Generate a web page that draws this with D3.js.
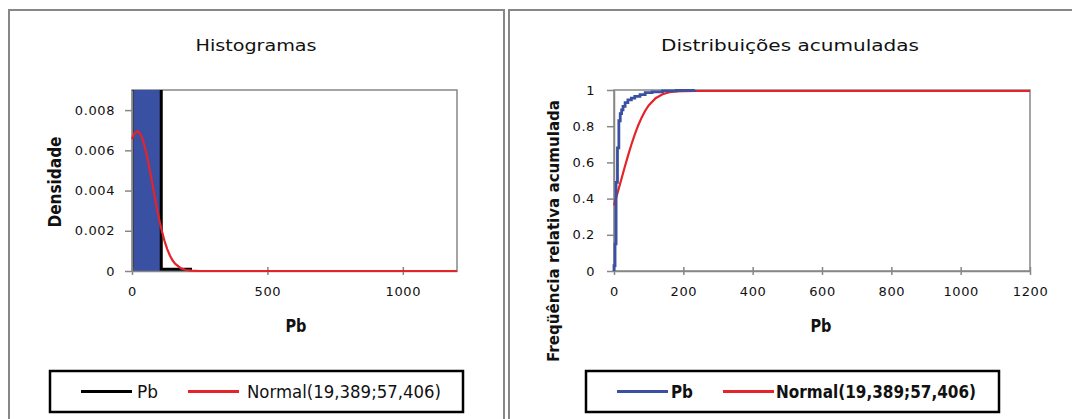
<!DOCTYPE html>
<html>
<head>
    <meta charset="utf-8" />
    <title>Histogramas e distribuições acumuladas - Pb</title>
    <style>
        body { margin: 0; background: #fff; }
        svg text { font-family: "DejaVu Sans", "Liberation Sans", sans-serif; fill: #111; }
    </style>
    <script src="https://cdn.jsdelivr.net/npm/d3@7"></script>
</head>
<body>
    <div id="svg"></div>

    <script type="text/javascript">
        // histogram of Pb (bin edges + density per bin)
        var binEdges = [0, 108, 216];
        var pbDensity = [0.0092, 0.00009];

        // fitted Normal(19,389;57,406) density
        var normX = [0, 10, 20, 30, 40, 50, 60, 70, 80, 90, 100, 110, 120, 130, 140, 150, 160, 180, 200, 220, 250, 1200];
        var normDens = [0.00656, 0.00686, 0.00695, 0.00683, 0.00652, 0.00603, 0.00541, 0.00471, 0.00398, 0.00326, 0.00259,
                        0.00200, 0.00150, 0.00109, 0.00077, 0.00052, 0.00035, 0.00014, 0.00005, 0.00002, 0, 0];

        // empirical cumulative frequency of Pb
        var pbCdfX = [0, 3, 6, 10, 14, 18, 22, 26, 32, 40, 50, 60, 75, 90, 110, 140, 180, 233];
        var pbCdfY = [0.03, 0.15, 0.49, 0.68, 0.83, 0.87, 0.89, 0.91, 0.93, 0.945, 0.955, 0.965, 0.975, 0.985, 0.99, 0.995, 0.998, 1];

        // fitted normal cumulative distribution
        var normCdfX = [0, 10, 20, 30, 40, 50, 60, 70, 80, 90, 100, 120, 140, 160, 180, 200, 240, 1200];
        var normCdfY = [0.368, 0.435, 0.504, 0.573, 0.640, 0.703, 0.760, 0.811, 0.854, 0.891, 0.920, 0.960, 0.982, 0.993, 0.9974, 0.9992, 1, 1];

        var densTicks = [0, 0.002, 0.004, 0.006, 0.008];
        var histXTicks = [0, 500, 1000];
        var cdfXTicks = [0, 200, 400, 600, 800, 1000, 1200];
        var cdfYTicks = [0, 0.2, 0.4, 0.6, 0.8, 1];
        var legendLabels = ['Pb', 'Normal(19,389;57,406)'];

        var width = 1072,
            height = 419;
        var gray = '#878787',
            blue = '#3a50a2',
            red = '#e4232b';

        var svg = d3.select('#svg')
            .append('svg')
            .attr('width', width)
            .attr('height', height);

        // panel frames
        svg.append('rect').attr('x', 9).attr('y', 10).attr('width', 495).attr('height', 420)
            .attr('fill', 'none').attr('stroke', gray).attr('stroke-width', 2);
        svg.append('rect').attr('x', 509).attr('y', 10).attr('width', 600).attr('height', 420)
            .attr('fill', 'none').attr('stroke', gray).attr('stroke-width', 2);

        // ---------- left: histogram ----------
        var hx = d3.scaleLinear().domain([0, 1200]).range([132, 457]);
        var hy = d3.scaleLinear().domain([0, 0.009]).range([271, 90]);

        svg.append('clipPath').attr('id', 'clipH')
            .append('rect').attr('x', 132).attr('y', 90).attr('width', 330).attr('height', 186);

        svg.append('rect').attr('x', 132).attr('y', 90).attr('width', 325).attr('height', 181)
            .attr('fill', 'none').attr('stroke', gray).attr('stroke-width', 1.5);

        var hg = svg.append('g').attr('clip-path', 'url(#clipH)');
        hg.selectAll('.bin')
            .data(pbDensity)
            .enter()
            .append('rect')
            .attr('x', (d, i) => hx(binEdges[i]))
            .attr('width', (d, i) => hx(binEdges[i + 1]) - hx(binEdges[i]))
            .attr('y', d => hy(d))
            .attr('height', d => hy(0) - hy(d))
            .attr('fill', blue);

        var outline = [[binEdges[0], 0]];
        pbDensity.forEach(function(d, i) {
            outline.push([binEdges[i], d], [binEdges[i + 1], d]);
        });
        outline.push([binEdges[binEdges.length - 1], 0]);
        hg.append('path')
            .datum(outline)
            .attr('d', d3.line().x(d => hx(d[0])).y(d => hy(d[1])))
            .attr('fill', 'none').attr('stroke', '#000').attr('stroke-width', 3);

        var gHY = svg.append('g')
            .attr('transform', 'translate(132, 0)')
            .call(d3.axisLeft(hy).tickValues(densTicks).tickSize(7).tickSizeOuter(0)
                .tickFormat(d => d === 0 ? '0' : d3.format('.3f')(d)));
        var gHX = svg.append('g')
            .attr('transform', 'translate(0, 271)')
            .call(d3.axisBottom(hx).tickValues(histXTicks).tickSize(4).tickSizeOuter(0)
                .tickFormat(d3.format('d')));
        gHX.selectAll('.tick line').attr('y1', -4);

        svg.append('path')
            .datum(normX.map((x, i) => [x, normDens[i]]))
            .attr('d', d3.line().x(d => hx(d[0])).y(d => hy(d[1])))
            .attr('fill', 'none').attr('stroke', red).attr('stroke-width', 2.2);

        // ---------- right: cumulative ----------
        var cx = d3.scaleLinear().domain([0, 1200]).range([614, 1030]);
        var cy = d3.scaleLinear().domain([0, 1]).range([271, 90]);

        svg.append('rect').attr('x', 614).attr('y', 90).attr('width', 416).attr('height', 181)
            .attr('fill', 'none').attr('stroke', gray).attr('stroke-width', 1.5);

        var gCY = svg.append('g')
            .attr('transform', 'translate(614, 0)')
            .call(d3.axisLeft(cy).tickValues(cdfYTicks).tickSize(7).tickSizeOuter(0)
                .tickFormat(d3.format('~g')));
        var gCX = svg.append('g')
            .attr('transform', 'translate(0, 271)')
            .call(d3.axisBottom(cx).tickValues(cdfXTicks).tickSize(4).tickSizeOuter(0)
                .tickFormat(d3.format('d')));
        gCX.selectAll('.tick line').attr('y1', -4);

        svg.append('path')
            .datum(normCdfX.map((x, i) => [x, normCdfY[i]]))
            .attr('d', d3.line().x(d => cx(d[0])).y(d => cy(d[1]) + 1))
            .attr('fill', 'none').attr('stroke', red).attr('stroke-width', 2.2);

        svg.append('path')
            .datum([[0, 0]].concat(pbCdfX.map((x, i) => [x, pbCdfY[i]])))
            .attr('d', d3.line().curve(d3.curveStepAfter).x(d => cx(d[0])).y(d => cy(d[1])))
            .attr('fill', 'none').attr('stroke', blue).attr('stroke-width', 2.8);

        // axis styling
        svg.selectAll('.domain, .tick line').attr('stroke', gray).attr('stroke-width', 1.5);
        svg.selectAll('.tick text')
            .attr('font-size', 13).attr('letter-spacing', 0.6).attr('fill', '#222')
            .style('font-family', '"DejaVu Sans", sans-serif');
        gHX.selectAll('.tick text').attr('y', 16);
        gCX.selectAll('.tick text').attr('y', 16);
        gHY.selectAll('.tick text').attr('x', -17);
        gCY.selectAll('.tick text').attr('x', -19);

        // titles
        function label(x, y, txt, size, weight, len, rot) {
            var t = svg.append('text')
                .attr('x', x).attr('y', y)
                .attr('text-anchor', 'middle')
                .attr('font-size', size)
                .attr('font-weight', weight)
                .text(txt);
            if (len) t.attr('textLength', len).attr('lengthAdjust', 'spacingAndGlyphs');
            if (rot) t.attr('transform', 'rotate(-90,' + x + ',' + y + ')');
            return t;
        }
        label(256, 51, 'Histogramas', 16, 'normal', 121);
        label(790, 51, 'Distribuições acumuladas', 16, 'normal', 258);
        label(296, 332, 'Pb', 17, 'bold', 21);
        label(821, 332, 'Pb', 17, 'bold', 21);
        label(61, 182, 'Densidade', 17, 'bold', 91, true);
        label(559, 231, 'Freqüência relativa acumulada', 16, 'bold', 262, true);

        // legends
        function legend(x0, x1, items) {
            svg.append('rect').attr('x', x0).attr('y', 371).attr('width', x1 - x0).attr('height', 41)
                .attr('fill', '#fff').attr('stroke', '#000').attr('stroke-width', 2.5);
            items.forEach(function(it, i) {
                svg.append('line')
                    .attr('x1', it.lx[0]).attr('x2', it.lx[1]).attr('y1', 391.5).attr('y2', 391.5)
                    .attr('stroke', it.color).attr('stroke-width', 3);
                var t = svg.append('text')
                    .attr('x', it.tx).attr('y', 398)
                    .attr('font-size', 17)
                    .attr('font-weight', it.weight)
                    .text(legendLabels[i]);
                if (it.len) t.attr('textLength', it.len).attr('lengthAdjust', 'spacingAndGlyphs');
            });
        }
        legend(50, 463, [
            {lx: [81, 132], color: '#000', tx: 137, weight: 'normal', len: 21},
            {lx: [188, 239], color: red, tx: 247, weight: 'normal', len: 194}
        ]);
        legend(586, 999, [
            {lx: [617, 668], color: blue, tx: 671, weight: '600', len: 22},
            {lx: [723, 774], color: red, tx: 776, weight: '600', len: 200}
        ]);
    </script>
</body>
</html>
